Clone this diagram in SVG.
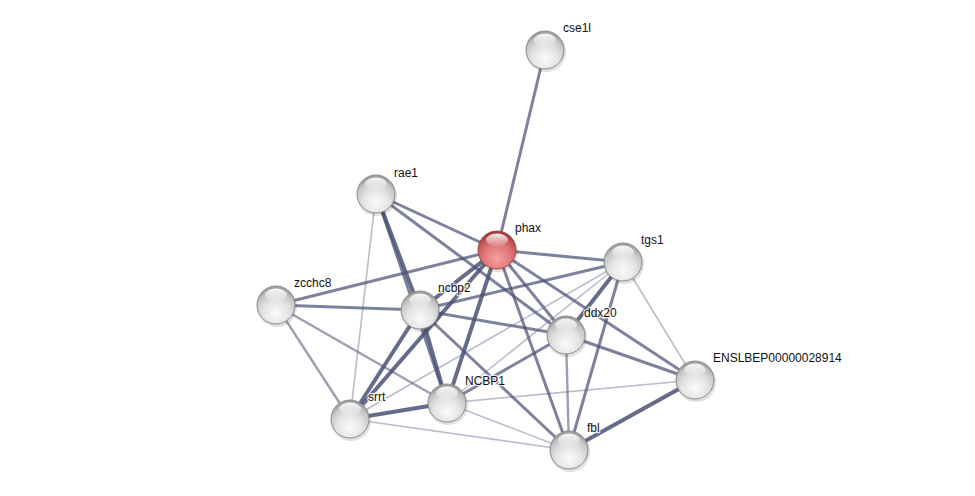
<svg xmlns="http://www.w3.org/2000/svg" width="975" height="496" viewBox="0 0 975 496">
<style>
.e{stroke:#4a5275;fill:none;stroke-linecap:butt}
.e4{stroke-width:4;stroke-opacity:0.85}
.e3{stroke-width:3;stroke-opacity:0.72}
.e2{stroke-width:2.4;stroke-opacity:0.55}
.e1{stroke-width:1.6;stroke-opacity:0.38}
.n{stroke:#8c8c8c;stroke-width:1}
.g{fill:url(#gg)}
.r{fill:url(#gr);stroke:#9a5050}
.hl{fill:url(#gh)}
.sh{fill:#000;fill-opacity:0.12}
text{font-family:"Liberation Sans",Arial,sans-serif;font-size:12px;fill:#111;paint-order:stroke;stroke:#fff;stroke-width:2.5;stroke-opacity:0.8}
</style>
<defs>
<radialGradient id="gg" cx="50%" cy="72%" r="65%">
<stop offset="0" stop-color="#fbfbfb"/>
<stop offset="0.55" stop-color="#e2e2e2"/>
<stop offset="0.85" stop-color="#c4c4c4"/>
<stop offset="1" stop-color="#a0a0a0"/>
</radialGradient>
<radialGradient id="gr" cx="50%" cy="72%" r="65%">
<stop offset="0" stop-color="#f7a0a0"/>
<stop offset="0.55" stop-color="#e07878"/>
<stop offset="0.85" stop-color="#c85656"/>
<stop offset="1" stop-color="#a03c3c"/>
</radialGradient>
<linearGradient id="gh" x1="0" y1="0" x2="0" y2="1">
<stop offset="0" stop-color="#fff" stop-opacity="0.95"/>
<stop offset="1" stop-color="#fff" stop-opacity="0.05"/>
</linearGradient>
</defs>
<rect width="975" height="496" fill="#fff"/>
<g id="edges">
<line class="e e3" x1="545" y1="50" x2="497" y2="250"/>
<line class="e e3" x1="376" y1="194" x2="497" y2="250"/>
<line class="e e3" x1="376" y1="194" x2="566" y2="335"/>
<line class="e e4" x1="376" y1="194" x2="420" y2="310"/>
<line class="e e3" x1="376" y1="194" x2="447" y2="403"/>
<line class="e e1" x1="376" y1="194" x2="350" y2="419"/>
<line class="e e3" x1="497" y1="250" x2="623" y2="262"/>
<line class="e e3" x1="497" y1="250" x2="276" y2="305"/>
<line class="e e4" x1="497" y1="250" x2="420" y2="310"/>
<line class="e e4" x1="497" y1="250" x2="447" y2="403"/>
<line class="e e4" x1="497" y1="250" x2="350" y2="419"/>
<line class="e e3" x1="497" y1="250" x2="566" y2="335"/>
<line class="e e3" x1="497" y1="250" x2="569" y2="450"/>
<line class="e e3" x1="497" y1="250" x2="695" y2="380"/>
<line class="e e3" x1="276" y1="305" x2="420" y2="310"/>
<line class="e e2" x1="276" y1="305" x2="350" y2="419"/>
<line class="e e2" x1="276" y1="305" x2="447" y2="403"/>
<line class="e e4" x1="420" y1="310" x2="350" y2="419"/>
<line class="e e4" x1="420" y1="310" x2="447" y2="403"/>
<line class="e e3" x1="420" y1="310" x2="566" y2="335"/>
<line class="e e3" x1="420" y1="310" x2="623" y2="262"/>
<line class="e e3" x1="420" y1="310" x2="569" y2="450"/>
<line class="e e4" x1="350" y1="419" x2="447" y2="403"/>
<line class="e e1" x1="350" y1="419" x2="569" y2="450"/>
<line class="e e1" x1="350" y1="419" x2="623" y2="262"/>
<line class="e e3" x1="447" y1="403" x2="566" y2="335"/>
<line class="e e1" x1="447" y1="403" x2="623" y2="262"/>
<line class="e e1" x1="447" y1="403" x2="569" y2="450"/>
<line class="e e1" x1="447" y1="403" x2="695" y2="380"/>
<line class="e e4" x1="566" y1="335" x2="623" y2="262"/>
<line class="e e3" x1="566" y1="335" x2="695" y2="380"/>
<line class="e e2" x1="566" y1="335" x2="569" y2="450"/>
<line class="e e3" x1="623" y1="262" x2="569" y2="450"/>
<line class="e e1" x1="623" y1="262" x2="695" y2="380"/>
<line class="e e4" x1="569" y1="450" x2="695" y2="380"/>
</g>
<g id="node-cse1l"><circle class="sh" cx="546" cy="52" r="20"/><circle class="n g" cx="545" cy="50" r="19"/><ellipse class="hl" cx="545" cy="40" rx="11" ry="6.5"/><text x="563" y="32">cse1l</text></g>
<g id="node-rae1"><circle class="sh" cx="377" cy="196" r="20"/><circle class="n g" cx="376" cy="194" r="19"/><ellipse class="hl" cx="376" cy="184" rx="11" ry="6.5"/><text x="394" y="177">rae1</text></g>
<g id="node-phax"><circle class="sh" cx="498" cy="252" r="20"/><circle class="n r" cx="497" cy="250" r="19"/><ellipse class="hl" cx="497" cy="240" rx="11" ry="6.5"/><text x="515" y="232">phax</text></g>
<g id="node-tgs1"><circle class="sh" cx="624" cy="264" r="20"/><circle class="n g" cx="623" cy="262" r="19"/><ellipse class="hl" cx="623" cy="252" rx="11" ry="6.5"/><text x="641" y="244">tgs1</text></g>
<g id="node-zcchc8"><circle class="sh" cx="277" cy="307" r="20"/><circle class="n g" cx="276" cy="305" r="19"/><ellipse class="hl" cx="276" cy="295" rx="11" ry="6.5"/><text x="294" y="287">zcchc8</text></g>
<g id="node-ncbp2"><circle class="sh" cx="421" cy="312" r="20"/><circle class="n g" cx="420" cy="310" r="19"/><ellipse class="hl" cx="420" cy="300" rx="11" ry="6.5"/><text x="438" y="292">ncbp2</text></g>
<g id="node-ddx20"><circle class="sh" cx="567" cy="337" r="20"/><circle class="n g" cx="566" cy="335" r="19"/><ellipse class="hl" cx="566" cy="325" rx="11" ry="6.5"/><text x="584" y="317">ddx20</text></g>
<g id="node-ENSLBEP00000028914"><circle class="sh" cx="696" cy="382" r="20"/><circle class="n g" cx="695" cy="380" r="19"/><ellipse class="hl" cx="695" cy="370" rx="11" ry="6.5"/><text x="713" y="362">ENSLBEP00000028914</text></g>
<g id="node-NCBP1"><circle class="sh" cx="448" cy="405" r="20"/><circle class="n g" cx="447" cy="403" r="19"/><ellipse class="hl" cx="447" cy="393" rx="11" ry="6.5"/><text x="465" y="385">NCBP1</text></g>
<g id="node-srrt"><circle class="sh" cx="351" cy="421" r="20"/><circle class="n g" cx="350" cy="419" r="19"/><ellipse class="hl" cx="350" cy="409" rx="11" ry="6.5"/><text x="368" y="401">srrt</text></g>
<g id="node-fbl"><circle class="sh" cx="570" cy="452" r="20"/><circle class="n g" cx="569" cy="450" r="19"/><ellipse class="hl" cx="569" cy="440" rx="11" ry="6.5"/><text x="587" y="432">fbl</text></g>
</svg>
